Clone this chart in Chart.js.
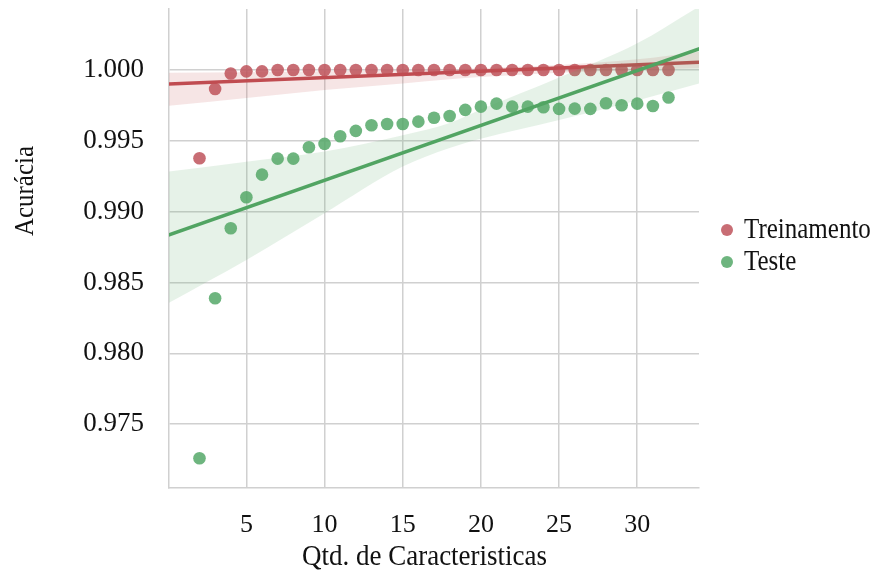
<!DOCTYPE html>
<html>
<head>
<meta charset="utf-8">
<script src="https://cdn.jsdelivr.net/npm/chart.js@4/dist/chart.umd.min.js"></script>
<style>
html,body{margin:0;padding:0;background:#ffffff;}
#wrap{width:882px;height:576px;position:relative;}
</style>
</head>
<body>
<div id="wrap"><canvas id="c" width="882" height="576"></canvas></div>
<script>
// ---- data ----
const features = [2,3,4,5,6,7,8,9,10,11,12,13,14,15,16,17,18,19,20,21,22,23,24,25,26,27,28,29,30,31,32];
const treinamento = [0.99377,0.99866,0.99975,0.99990,0.99990,1.00000,1.00000,1.00000,1.00000,1.00000,1.00000,1.00000,1.00000,1.00000,1.00000,1.00000,1.00000,1.00000,1.00000,1.00000,1.00000,1.00000,1.00000,1.00000,1.00000,1.00000,1.00000,1.00000,1.00000,1.00000,1.00000];
const teste = [0.97260,0.98389,0.98883,0.99102,0.99261,0.99374,0.99374,0.99454,0.99478,0.99532,0.99570,0.99610,0.99619,0.99619,0.99635,0.99663,0.99675,0.99718,0.99741,0.99762,0.99741,0.99741,0.99737,0.99725,0.99727,0.99725,0.99765,0.99751,0.99762,0.99746,0.99805];

// regression lines (read at the plot edges)
const fitX = [0, 34];
const fitTreinamento = [0.99900, 1.00055];
const fitTeste = [0.98834, 1.00150];

// confidence bands
const bandX = [0, 5, 10, 15, 18, 20, 25, 30, 34];
const bandTreinoUpper = [0.99981,0.99984,0.99990,0.99998,1.00005,1.00012,1.00035,1.00075,1.00129];
const bandTreinoLower = [0.99746,0.99802,0.99859,0.99905,0.99935,0.99950,0.99981,1.00000,1.00012];
const bandTesteUpper  = [0.99282,0.99353,0.99424,0.99540,0.99625,0.99720,0.99946,1.00188,1.00450];
const bandTesteLower  = [0.98354,0.98659,0.98989,0.99318,0.99450,0.99515,0.99647,0.99785,0.99906];

const xTicks = [5,10,15,20,25,30];
const yTicks = [0.975,0.980,0.985,0.990,0.995,1.000];
const seriesNames = ['Treinamento','Teste'];
const xTitle = 'Qtd. de Caracteristicas';
const yTitle = 'Acurácia';

// ---- styling ----
const RED = 'rgb(192,76,82)';
const GREEN = 'rgb(80,164,98)';
const RED_PT = 'rgba(190,84,92,0.85)';
const GREEN_PT = 'rgba(85,168,104,0.85)';
const RED_BAND = 'rgba(196,78,82,0.15)';
const GREEN_BAND = 'rgba(85,168,104,0.15)';
const GRID = '#d0d0d0';
const FONT = '"Liberation Serif", "Times New Roman", serif';

const pts = (xs, ys) => xs.map((x, i) => ({x: x, y: ys[i]}));

const textPlugin = {
  id: 'texts',
  afterDraw(chart) {
    const ctx = chart.ctx;
    ctx.save();
    ctx.fillStyle = '#111111';
    // x title
    ctx.save();
    ctx.font = '27px ' + FONT;
    ctx.textAlign = 'center';
    ctx.textBaseline = 'alphabetic';
    ctx.translate(424.5, 565);
    ctx.scale(1, 1.12);
    ctx.fillText(xTitle, 0, 0);
    ctx.restore();
    // y title
    ctx.save();
    ctx.font = '25px ' + FONT;
    ctx.textAlign = 'center';
    ctx.textBaseline = 'alphabetic';
    ctx.translate(33, 191);
    ctx.rotate(-Math.PI / 2);
    ctx.scale(1, 1.12);
    ctx.fillText(yTitle, 0, 0);
    ctx.restore();
    // legend
    const cols = [RED_PT, GREEN_PT];
    const ys = [230, 262];
    for (let i = 0; i < 2; i++) {
      ctx.beginPath();
      ctx.fillStyle = cols[i];
      ctx.arc(727, ys[i], 6, 0, Math.PI * 2);
      ctx.fill();
      ctx.save();
      ctx.fillStyle = '#111111';
      ctx.font = '25px ' + FONT;
      ctx.textAlign = 'left';
      ctx.textBaseline = 'alphabetic';
      ctx.translate(744, ys[i] + 7.5);
      ctx.scale(1, 1.15);
      ctx.fillText(seriesNames[i], 0, 0);
      ctx.restore();
    }
    ctx.restore();
  }
};

const bandDs = (ys, color, order, fill) => ({
  type: 'line',
  data: pts(bandX, ys),
  borderWidth: 0,
  borderColor: 'rgba(0,0,0,0)',
  backgroundColor: color,
  pointRadius: 0,
  cubicInterpolationMode: 'monotone',
  fill: fill,
  order: order
});

new Chart(document.getElementById('c'), {
  type: 'scatter',
  data: {
    datasets: [
      { label: seriesNames[0], data: pts(features, treinamento), backgroundColor: RED_PT, borderWidth: 0, pointRadius: 6.3, order: 6 },
      { type: 'line', label: 'fitT', data: pts(fitX, fitTreinamento), borderColor: RED, borderWidth: 3.5, pointRadius: 0, fill: false, order: 5 },
      bandDs(bandTreinoUpper, RED_BAND, 4, '+1'),
      bandDs(bandTreinoLower, 'rgba(0,0,0,0)', 4, false),
      { label: seriesNames[1], data: pts(features, teste), backgroundColor: GREEN_PT, borderWidth: 0, pointRadius: 6.3, order: 3 },
      { type: 'line', label: 'fitS', data: pts(fitX, fitTeste), borderColor: GREEN, borderWidth: 3.5, pointRadius: 0, fill: false, order: 2 },
      bandDs(bandTesteUpper, GREEN_BAND, 1, '+1'),
      bandDs(bandTesteLower, 'rgba(0,0,0,0)', 1, false)
    ]
  },
  options: {
    responsive: false,
    animation: false,
    devicePixelRatio: 1,
    layout: { padding: { left: 0, right: 183, top: 9, bottom: 0 } },
    plugins: { legend: { display: false }, tooltip: { enabled: false } },
    scales: {
      x: {
        type: 'linear',
        min: 0.05,
        max: 33.95,
        afterBuildTicks: s => { s.ticks = xTicks.map(v => ({ value: v })); },
        afterFit: s => { s.height = 88; s.paddingLeft = 0; s.paddingRight = 0; },
        grid: { color: GRID, lineWidth: 1.5, drawTicks: false },
        border: { display: true, color: GRID, width: 1.5 },
        ticks: { font: { family: FONT, size: 26 }, color: '#111111', padding: 22, maxRotation: 0 }
      },
      y: {
        type: 'linear',
        min: 0.9705,
        max: 1.0043,
        afterBuildTicks: s => { s.ticks = yTicks.map(v => ({ value: v })); },
        afterFit: s => { s.width = 169; s.paddingTop = 0; s.paddingBottom = 0; },
        grid: { color: GRID, lineWidth: 1.5, drawTicks: false },
        border: { display: true, color: GRID, width: 1.5 },
        ticks: { font: { family: FONT, size: 27 }, color: '#111111', padding: 25, callback: v => Number(v).toFixed(3) }
      }
    }
  },
  plugins: [textPlugin]
});
</script>
</body>
</html>
